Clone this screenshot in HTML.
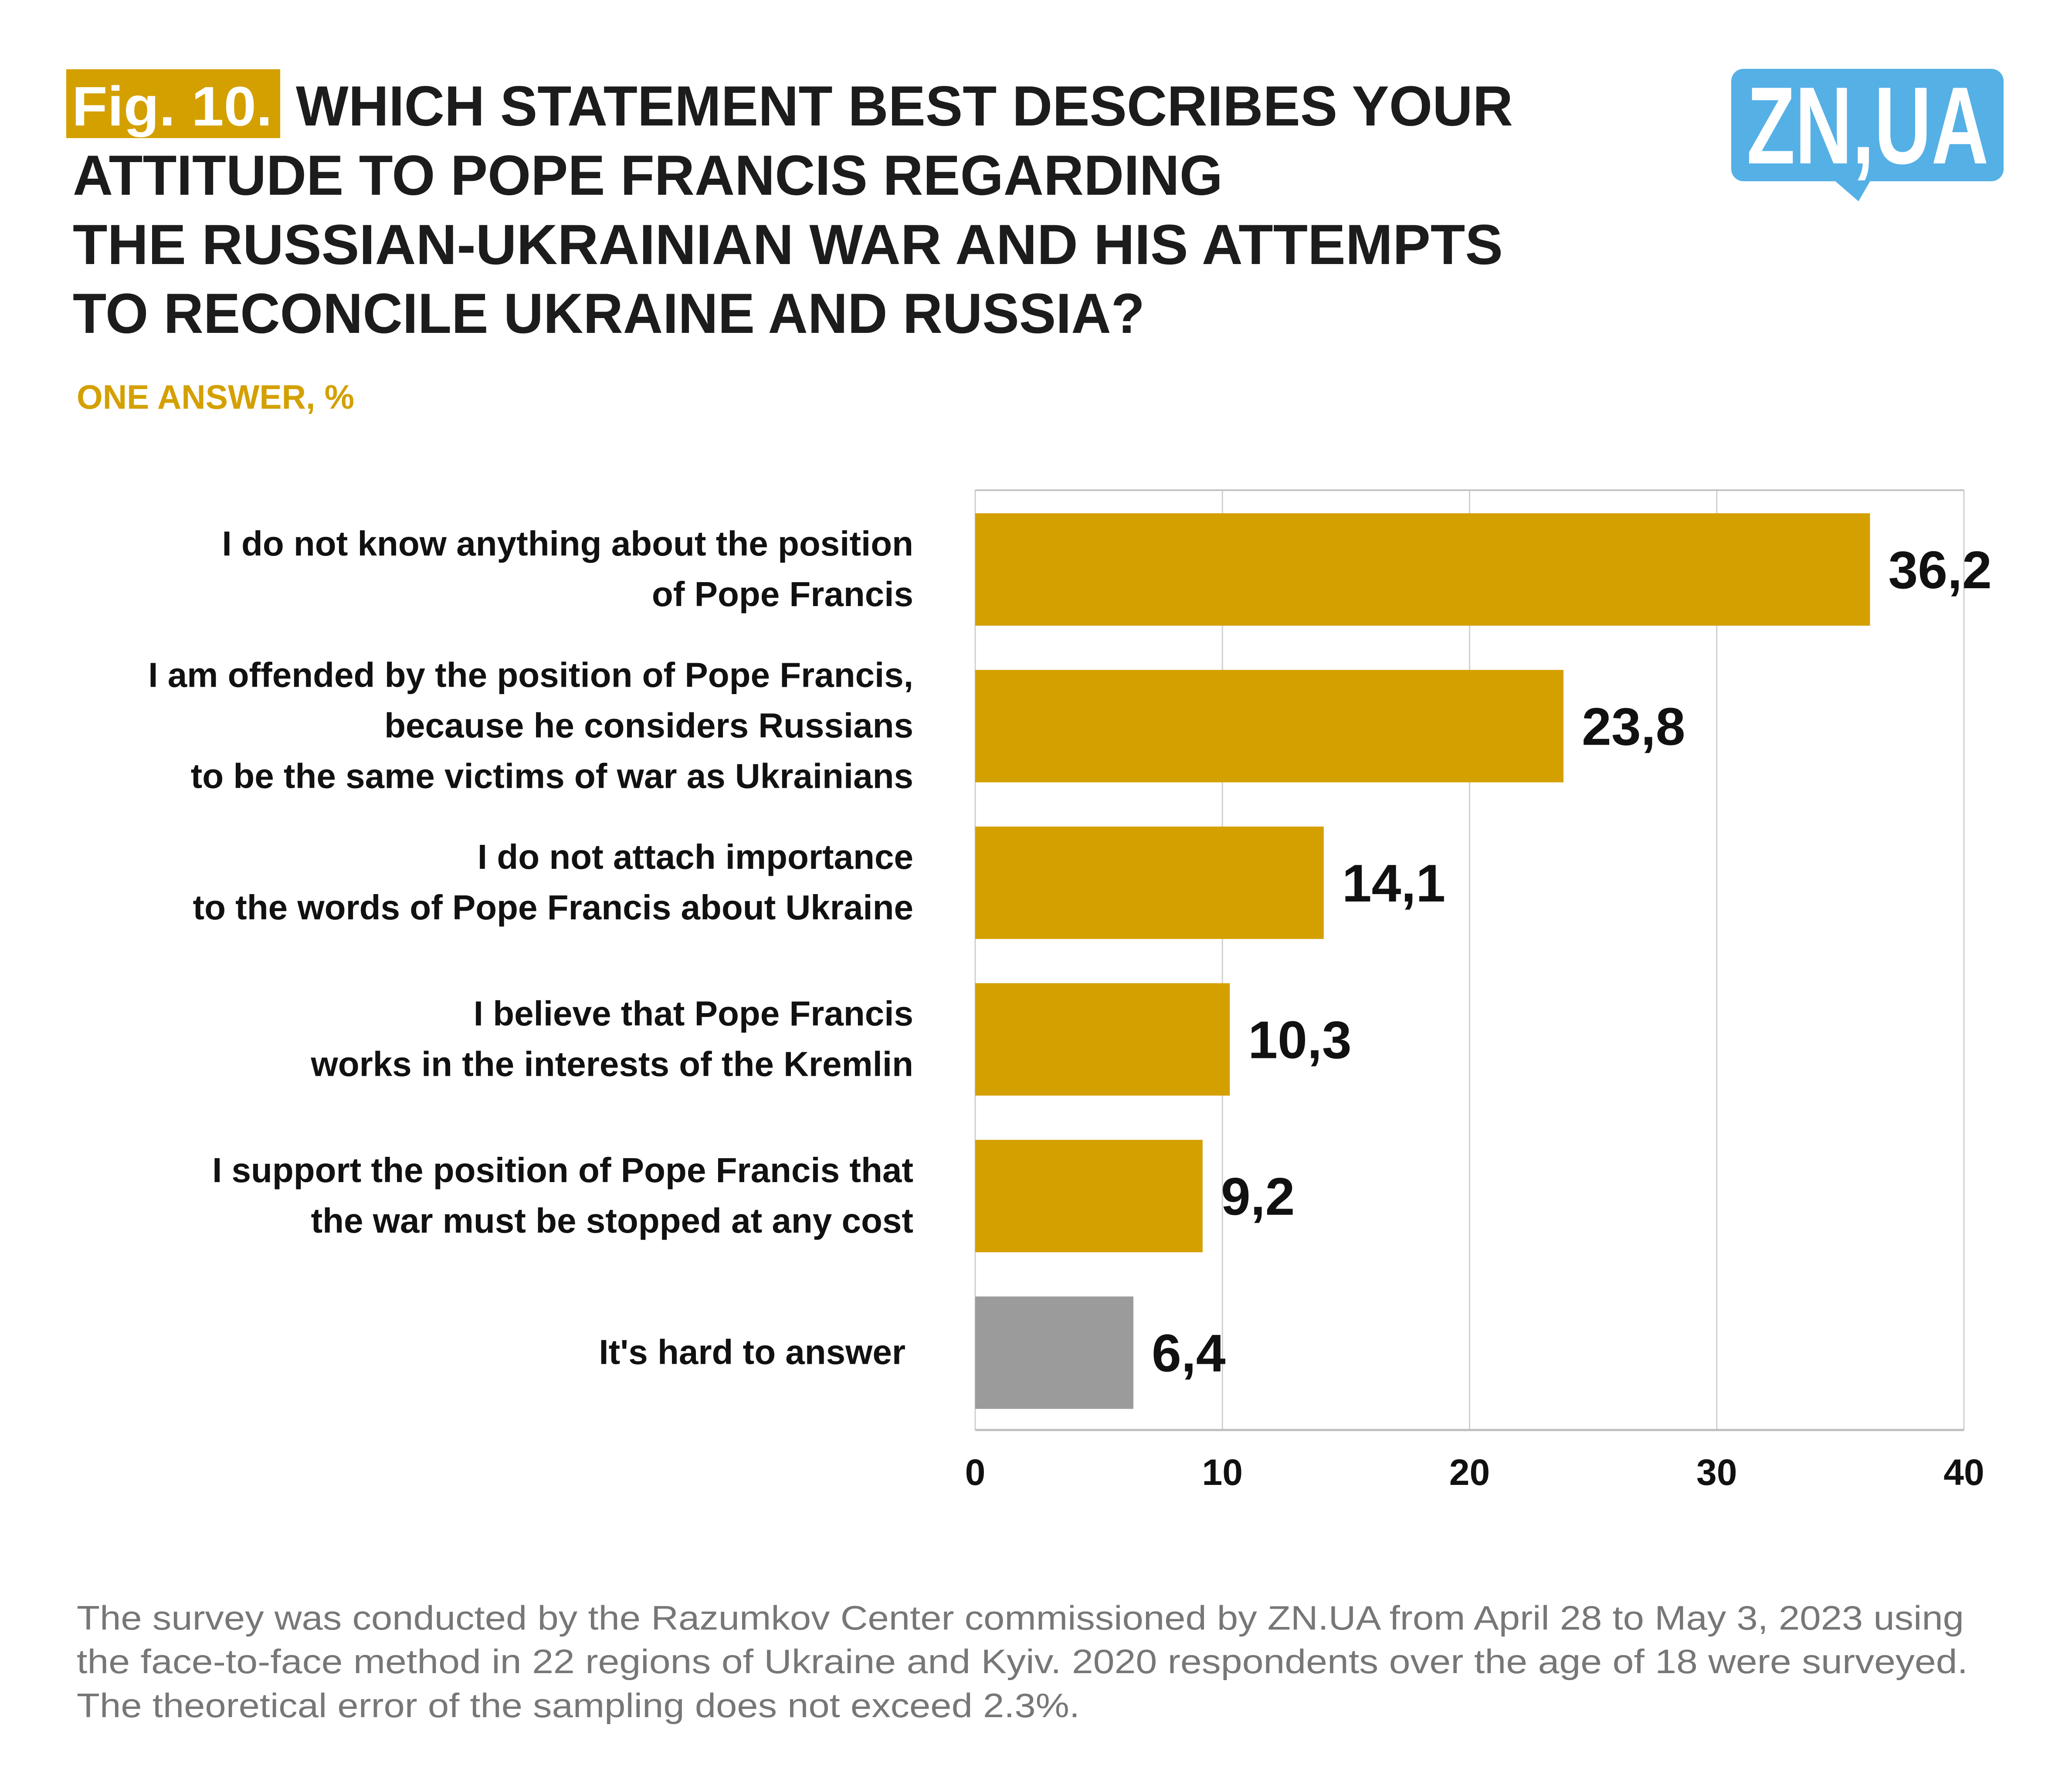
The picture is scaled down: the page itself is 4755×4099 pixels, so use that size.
<!DOCTYPE html>
<html><head><meta charset="utf-8"><style>
html,body{margin:0;padding:0;background:#fff;}
svg{display:block;}
text{font-family:"Liberation Sans",sans-serif;}
</style></head><body>
<svg id="chart" width="4755" height="4099" viewBox="0 0 4755 4099" xmlns="http://www.w3.org/2000/svg">
<rect x="0" y="0" width="4755" height="4099" fill="#fff"/>
<g>
<rect x="152" y="159" width="491" height="158" fill="#d4a000"/>
<text x="165" y="288" font-size="128" font-weight="bold" fill="#fff" textLength="460" lengthAdjust="spacingAndGlyphs">Fig. 10.</text>
<text x="679" y="288" font-size="130" font-weight="bold" fill="#1c1c1c" textLength="2793" lengthAdjust="spacingAndGlyphs">WHICH STATEMENT BEST DESCRIBES YOUR</text>
<text x="167" y="447" font-size="130" font-weight="bold" fill="#1c1c1c" textLength="2639" lengthAdjust="spacingAndGlyphs">ATTITUDE TO POPE FRANCIS REGARDING</text>
<text x="167" y="606" font-size="130" font-weight="bold" fill="#1c1c1c" textLength="3282" lengthAdjust="spacingAndGlyphs">THE RUSSIAN-UKRAINIAN WAR AND HIS ATTEMPTS</text>
<text x="167" y="764" font-size="130" font-weight="bold" fill="#1c1c1c" textLength="2460" lengthAdjust="spacingAndGlyphs">TO RECONCILE UKRAINE AND RUSSIA?</text>
</g>
<text x="176" y="938" font-size="78" font-weight="bold" fill="#d4a000" textLength="637" lengthAdjust="spacingAndGlyphs">ONE ANSWER, %</text>
<g>
<rect x="3973" y="158" width="625" height="258" rx="28" fill="#55b0e6"/>
<polygon points="4205,410 4295,410 4265,462" fill="#55b0e6"/>
<text x="4286" y="375" font-size="252" font-weight="bold" fill="#fff" text-anchor="middle" textLength="555" lengthAdjust="spacingAndGlyphs">ZN,UA</text>
</g>
<g id="plot"></g>
<g font-size="78" fill="#777">
<text x="176" y="3740" textLength="4331" lengthAdjust="spacingAndGlyphs">The survey was conducted by the Razumkov Center commissioned by ZN.UA from April 28 to May 3, 2023 using</text>
<text x="176" y="3840" textLength="4340" lengthAdjust="spacingAndGlyphs">the face-to-face method in 22 regions of Ukraine and Kyiv. 2020 respondents over the age of 18 were surveyed.</text>
<text x="176" y="3941" textLength="2302" lengthAdjust="spacingAndGlyphs">The theoretical error of the sampling does not exceed 2.3%.</text>
</g>
</svg>
<script>
const categories = [
  ["I do not know anything about the position","of Pope Francis"],
  ["I am offended by the position of Pope Francis,","because he considers Russians","to be the same victims of war as Ukrainians"],
  ["I do not attach importance","to the words of Pope Francis about Ukraine"],
  ["I believe that Pope Francis","works in the interests of the Kremlin"],
  ["I support the position of Pope Francis that","the war must be stopped at any cost"],
  ["It's hard to answer"]
];
const values = [36.2, 23.8, 14.1, 10.3, 9.2, 6.4];
const valueLabels = ["36,2","23,8","14,1","10,3","9,2","6,4"];
const barColors = ["#d4a000","#d4a000","#d4a000","#d4a000","#d4a000","#9b9b9b"];
const ticks = [0, 10, 20, 30, 40];

const NS = "http://www.w3.org/2000/svg";
const plot = document.getElementById('plot');
const L = 2238, R = 4507, T = 1125, B = 3282, xMax = 40;
const band = (B - T) / categories.length;
const xs = v => L + (v / xMax) * (R - L);
const yBand = i => T + i * band;
function mk(tag, attrs, parent) {
  const e = document.createElementNS(NS, tag);
  for (const k in attrs) e.setAttribute(k, attrs[k]);
  (parent || plot).appendChild(e);
  return e;
}
ticks.forEach((t, i) => {
  const g = mk('line', {x1: xs(t), x2: xs(t), y1: T, y2: B, stroke: '#cfcfcf', 'stroke-width': 3});
  
  
  const tl = mk('text', {x: xs(t), y: 3408, 'font-size': 84, 'font-weight': 'bold', fill: '#111', 'text-anchor': 'middle'});
  tl.textContent = ticks[i];
  
  
});
const topBorder = mk('line', {x1: L, x2: R, y1: T, y2: T, stroke: '#c4c4c4', 'stroke-width': 4});


const axisLine = mk('line', {x1: L, x2: R, y1: B, y2: B, stroke: '#bdbdbd', 'stroke-width': 5});


values.forEach((v, i) => {
  const by = yBand(i) + 53, bh = 258;
  const r = mk('rect', {x: L, y: by, width: xs(v) - L, height: bh, fill: barColors[i]});
  
  
  const vl = mk('text', {x: xs(v) + 42, y: by + bh / 2 + 43, 'font-size': 122, 'font-weight': 'bold', fill: '#111'});
  vl.textContent = valueLabels[i];
  
  
  const lines = categories[i];
  const cy = by + bh / 2;
  const lh = 116;
  const rightEdge = i === categories.length - 1 ? 2078 : 2096;
  lines.forEach((ln, j) => {
    const ly = cy + (j - (lines.length - 1) / 2) * lh + 26;
    const t = mk('text', {x: rightEdge, y: ly, 'font-size': 80, 'font-weight': 'bold', fill: '#111', 'text-anchor': 'end'});
    t.textContent = ln;
    
    
  });
});
</script>
</body></html>
